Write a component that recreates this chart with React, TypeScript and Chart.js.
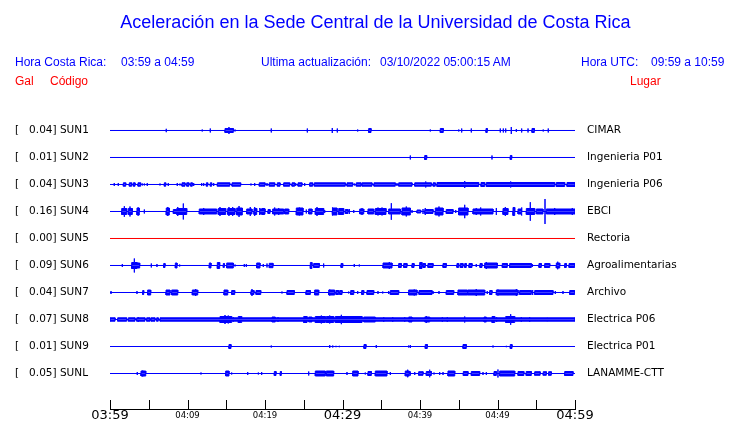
import React, { useEffect, useRef } from 'react';
import { Chart, registerables } from 'chart.js';

Chart.register(...registerables);

// ---------- data ----------
const STATION_CODES = ['SUN1', 'SUN2', 'SUN3', 'SUN4', 'SUN5', 'SUN6', 'SUN7', 'SUN8', 'SUN9', 'SUNL'];
const PEAK_GAL = ['0.04', '0.01', '0.04', '0.16', '0.00', '0.09', '0.04', '0.07', '0.01', '0.05'];
const PLACES = ['CIMAR', 'Ingenieria P01', 'Ingenieria P06', 'EBCI', 'Rectoria', 'Agroalimentarias', 'Archivo', 'Electrica P06', 'Electrica P01', 'LANAMME-CTT'];
const TIME_LABELS = ['03:59', '04:09', '04:19', '04:29', '04:39', '04:49', '04:59'];
const TRACE_COLORS = ['#0000ff', '#0000ff', '#0000ff', '#0000ff', '#ff0000', '#0000ff', '#0000ff', '#0000ff', '#0000ff', '#0000ff'];

// events per station: [start minute, end minute, half amplitude (1 trace spacing = 27)]
const SUN1 = [[7.26,7.26,1.7],[11.9,11.9,1],[12.94,12.94,2],[14.84,15.91,2],[15.35,15.35,3.5],[16.13,16.13,1],[20.81,20.81,2],[25.46,25.46,2],[28.68,28.68,2.5],[29.33,29.33,2],[31.96,31.96,1],[33.38,33.68,2],[41.33,41.33,1],[42.62,43.0,2],[45.0,45.0,1],[45.38,45.38,2],[46.62,46.62,2],[48.52,48.68,2],[50.36,50.36,2],[50.75,50.75,2],[51.06,51.06,2],[51.78,51.78,3.5],[52.43,52.43,1.5],[53.12,53.12,2],[53.94,53.94,2],[54.45,54.75,2],[55.9,55.9,1],[56.55,56.55,2]];
const SUN2 = [[38.75,38.75,2],[40.61,40.86,2],[49.29,49.29,2],[51.65,51.83,2]];
const SUN3 = [[0.55,0.55,1.5],[1.07,1.07,1.5],[1.72,2.03,1.7],[2.49,2.80,1.7],[3.01,3.23,1.7],[3.61,3.96,1.7],[4.17,4.17,1],[4.43,4.43,1],[4.81,4.81,1.5],[6.45,6.45,1],[7.01,7.19,1.7],[7.52,7.52,1.5],[8.68,8.68,1.5],[9.03,9.03,1],[9.29,9.68,1.7],[9.90,10.19,1.7],[10.41,10.62,1.7],[10.80,10.80,1.5],[11.83,11.83,1.5],[12.09,12.09,1.5],[12.43,12.61,1.7],[12.94,13.12,1.7],[13.38,13.38,1.5],[13.85,15.45,1.7],[15.74,16.86,1.7],[18.19,18.19,1],[18.67,18.67,1.5],[19.26,20.0,1.7],[20.26,20.26,1.5],[20.55,21.25,1.7],[21.59,21.94,1.7],[22.41,23.19,1.7],[23.48,23.83,1.7],[23.96,23.96,1.5],[24.26,24.77,1.7],[25.12,25.12,1.5],[25.77,26.15,1.7],[26.36,30.36,1.7],[30.58,31.32,1.7],[31.57,31.57,1],[31.78,32.39,1.7],[32.52,33.81,1.7],[34.06,36.81,1.7],[37.03,37.03,1.5],[37.25,38.97,1.7],[39.32,41.46,1.7],[40.74,40.74,3],[41.68,41.97,1.7],[42.19,47.57,2],[45.77,45.77,3.5],[47.87,48.35,2],[48.56,57.38,2],[49.42,49.42,2.5],[51.70,51.70,3],[57.59,58.67,2],[58.97,60,2]];
const SUN4 = [[1.51,2.15,3],[1.85,1.85,5.3],[2.36,2.88,3],[2.58,2.58,5],[3.48,3.78,3.5],[3.65,3.65,4],[4.43,4.43,2],[7.26,7.65,3.5],[7.45,7.45,4.5],[8.17,8.61,2],[8.61,9.90,3],[8.74,8.74,4.5],[9.46,9.46,8],[11.52,13.77,2.5],[12.09,12.09,3.5],[13.97,14.93,3],[14.19,14.19,4.5],[15.19,16.13,3],[15.35,15.35,4.5],[15.83,15.83,4.5],[16.35,17.07,3.5],[16.65,16.65,5.5],[17.64,18.32,2.5],[18.10,18.10,4.5],[18.58,18.93,3],[18.67,18.67,4.5],[19.26,20.0,2.5],[19.35,19.35,3.5],[19.61,19.96,3],[20.39,20.65,2],[20.99,22.41,2.5],[21.25,21.25,4],[21.77,21.77,3.5],[22.54,23.06,2.5],[24.04,24.90,3.5],[24.43,24.43,4],[25.33,25.33,2],[25.64,26.06,2.5],[26.49,27.57,3],[26.71,26.71,4.5],[27.70,27.70,1.5],[28.65,29.29,3.5],[28.74,28.74,4],[29.51,30.15,3],[30.36,30.71,2],[30.88,30.88,2.5],[31.45,31.45,1.5],[32.22,32.74,2.5],[32.52,32.52,3.5],[33.29,34.03,2.5],[34.23,35.61,3],[34.58,34.58,4],[35.10,35.10,4],[35.96,37.46,2.5],[36.30,36.30,8.3],[37.68,38.75,3.5],[38.23,38.23,5],[38.97,38.97,1.5],[39.61,40.09,1.5],[40.39,40.39,2.5],[40.61,41.68,2],[40.68,40.68,3.5],[41.25,41.25,2.5],[41.97,42.97,3.5],[42.45,42.45,5],[43.39,44.26,2],[44.61,44.61,1.5],[44.99,46.19,3.5],[45.77,45.77,6.7],[46.84,47.57,2.5],[47.26,47.26,3.5],[47.57,49.42,2.5],[47.83,47.83,4],[49.85,49.85,3.5],[50.71,51.35,3],[51.01,51.01,4.5],[52.0,52.22,4],[52.65,53.07,2.5],[53.16,53.16,4],[53.72,54.80,3],[54.23,54.23,9.3],[55.01,55.87,2.5],[56.13,56.13,12.5],[56.30,60,2.5],[57.38,57.38,3.5],[59.65,59.65,3.5]];
const SUN5 = [];
const SUN6 = [[1.59,1.59,1.5],[2.80,3.48,3],[3.14,3.14,7],[3.48,3.83,2.5],[5.33,5.33,2],[6.06,6.06,1.5],[6.93,7.10,2],[8.43,8.65,2.5],[8.99,8.99,1],[12.81,13.03,2.5],[13.85,14.15,3],[14.62,14.75,2],[15.06,15.91,2.5],[16.13,16.13,1],[17.33,17.33,1.5],[17.59,17.59,1.5],[18.93,19.35,2.5],[19.78,19.78,1.5],[20.26,20.26,2],[20.55,21.03,2.2],[25.85,26.06,3],[26.28,27.01,2],[27.57,27.57,2],[29.81,30.03,2],[31.52,31.52,1.5],[32.17,32.17,1],[35.23,36.39,2.5],[36.04,36.04,3.5],[37.25,37.59,2],[37.90,38.32,2],[38.97,39.23,2],[39.96,40.26,3],[40.39,40.68,2],[41.03,41.68,2],[42.97,43.39,2],[44.77,44.99,2],[45.20,45.55,2],[45.77,45.97,2],[46.32,46.71,2],[47.26,47.26,1.5],[47.74,48.0,2],[48.35,49.97,2.5],[48.56,48.56,3.5],[50.62,51.26,2],[51.57,54.36,2],[54.49,54.49,1.5],[55.35,55.65,2],[56.09,56.74,2],[57.59,58.03,2.5],[57.77,57.77,3.8],[58.67,58.88,2],[59.23,59.96,2]];
const SUN7 = [[0.13,0.13,1.5],[3.48,3.48,1.5],[4.22,4.35,2],[4.86,5.25,2.5],[7.23,7.74,2.5],[7.96,8.74,2.5],[10.62,11.32,2.5],[11.05,11.05,3.5],[14.71,15.19,2.5],[15.70,16.09,2],[18.19,18.58,2],[18.32,18.32,3.5],[18.84,19.45,2],[22.19,22.19,1],[22.84,23.78,2],[25.29,25.85,2],[26.41,26.93,2.5],[28.22,28.99,2.5],[28.35,28.35,3],[29.16,29.51,2],[29.64,29.94,2],[30.80,30.80,1],[31.06,31.45,2],[31.96,31.96,1.5],[32.48,32.74,2],[33.16,34.03,2],[34.58,34.58,1.5],[35.19,35.19,1],[35.96,35.96,1.5],[36.17,37.25,2],[38.54,39.61,2.5],[39.26,39.26,3],[39.87,41.55,2],[41.68,41.68,1.5],[42.45,42.45,1.5],[43.39,44.35,2],[44.90,46.10,2.5],[46.19,48.35,2.5],[47.26,47.26,3.5],[48.68,48.68,1.5],[48.99,49.29,2],[49.85,52.0,2.5],[50.06,50.06,3],[52.0,52.65,2.5],[52.43,52.43,3.5],[52.86,54.36,2],[54.54,54.54,2.5],[54.80,57.16,2],[57.46,57.46,1.5],[58.45,58.45,1.5],[59.32,59.96,2]];
const SUN8 = [[0,0.65,1.7],[0.99,2.15,1.7],[2.36,3.23,1.7],[3.44,4.52,1.7],[3.65,3.65,2.5],[4.73,5.16,1.7],[5.29,5.81,1.7],[6.02,6.23,1.7],[6.45,60,1.7],[14.19,15.70,3],[14.84,14.84,4.5],[15.26,15.26,4],[15.91,15.91,2.5],[16.55,16.99,3],[16.81,16.81,3.5],[20.90,21.33,2.5],[21.68,21.68,2.5],[24.99,25.42,3],[25.64,26.06,2.5],[26.49,27.78,3],[27.27,27.27,4],[27.91,28.86,3],[28.35,28.35,4],[29.07,32.52,3],[29.85,29.85,4.7],[32.74,34.23,2.5],[35.32,35.32,2.5],[36.48,36.48,2.5],[38.03,38.03,2.5],[38.54,38.97,2.5],[40.61,41.25,2.5],[40.81,40.81,3.5],[42.88,42.88,2.5],[43.52,43.52,2.5],[45.77,45.77,3],[48.26,48.56,2.5],[49.29,49.64,3],[49.89,49.89,2.5],[51.06,52.22,3],[51.70,51.70,5.3],[53.07,53.07,2.5],[54.15,54.15,2.5],[56.43,56.43,2]];
const SUN9 = [[15.35,15.61,2],[20.81,20.81,1],[28.35,28.35,1.5],[28.74,28.74,1],[29.16,29.16,0.7],[29.59,29.59,0.7],[32.77,33.03,2],[34.36,34.36,1.5],[38.54,38.54,1],[38.75,38.75,1.5],[40.68,40.94,2],[45.55,45.97,2],[49.42,49.42,1],[51.14,51.14,0.7],[51.65,51.87,2]];
const SUNL = [[3.52,3.52,1.5],[4.0,4.61,2.5],[4.22,4.22,3],[11.74,11.74,1],[14.93,15.35,2.5],[15.70,15.70,1],[17.77,17.77,1.5],[19.14,19.14,1],[19.57,19.57,1.5],[21.2,21.42,2],[21.97,22.10,2],[25.64,25.64,2],[26.49,27.78,2.5],[27.91,28.86,2.5],[30.58,30.58,1.5],[31.32,32.0,2.5],[32.94,32.94,1],[33.29,33.72,2],[34.23,35.74,2.5],[36.17,36.17,1.5],[38.10,38.62,2.5],[38.41,38.41,3.8],[38.75,38.75,2],[39.32,39.32,1.5],[39.83,40.39,1.8],[40.81,41.46,2],[41.25,41.25,3.8],[41.81,41.81,1],[42.54,42.54,1.5],[42.97,42.97,1.5],[43.61,44.48,2.5],[45.59,46.19,2],[46.62,47.70,2],[48.13,48.13,1.5],[48.56,48.56,1.5],[49.55,49.85,2],[50.06,50.06,4],[50.28,52.22,2.5],[52.65,53.4,2],[53.7,54.36,2],[54.80,55.5,1.8],[55.9,56.3,1.8],[56.6,56.94,1.8],[58.67,59.74,2]];

const TRACE_EVENTS = [SUN1, SUN2, SUN3, SUN4, SUN5, SUN6, SUN7, SUN8, SUN9, SUNL];

const AMP_PER_TRACE = 27;
const X_MIN = 0;
const X_MAX = 60;
const Y_MIN = -0.7222;
const Y_MAX = 10.3148;

function envelope(events: number[][], base: number, sign: number) {
  const set = new Set<number>([X_MIN, X_MAX]);
  events.forEach((e) => { set.add(e[0]); set.add(e[1]); });
  const times = Array.from(set).sort((a, b) => a - b);
  const pts: { x: number; y: number }[] = [];
  for (const t of times) {
    let L = 0, P = 0, R = 0;
    for (const [s, e, a] of events) {
      if (s < t && t <= e) L = Math.max(L, a);
      if (s <= t && t <= e) P = Math.max(P, a);
      if (s <= t && t < e) R = Math.max(R, a);
    }
    pts.push({ x: t, y: base + (sign * L) / AMP_PER_TRACE });
    pts.push({ x: t, y: base + (sign * P) / AMP_PER_TRACE });
    pts.push({ x: t, y: base + (sign * R) / AMP_PER_TRACE });
  }
  return pts;
}

const tickMarks = {
  id: 'tickMarks',
  afterDraw(chart: any) {
    const xs = chart.scales.x;
    const ctx = chart.ctx;
    const bottom = chart.chartArea.bottom;
    ctx.save();
    ctx.strokeStyle = '#000';
    ctx.lineWidth = 1;
    ctx.beginPath();
    xs.ticks.forEach((tk: any) => {
      const px = Math.round(xs.getPixelForValue(tk.value)) + 0.5;
      ctx.moveTo(px, bottom + 0.5);
      ctx.lineTo(px, bottom - 9);
    });
    ctx.stroke();
    ctx.restore();
  },
};

const HEAD: React.CSSProperties = {
  position: 'absolute',
  fontFamily: '"Liberation Sans", Arial, sans-serif',
  fontSize: 12,
  lineHeight: '14px',
  whiteSpace: 'pre',
  color: '#0000ff',
};

const noPad = (s: any) => {
  s.paddingTop = 0;
  s.paddingBottom = 0;
};

export default function App() {
  const ref = useRef<HTMLCanvasElement | null>(null);

  useEffect(() => {
    if (!ref.current) return;
    const datasets: any[] = [];
    TRACE_EVENTS.forEach((ev, i) => {
      [-1, 1].forEach((sign) => {
        datasets.push({
          data: envelope(ev as number[][], i, sign),
          borderColor: TRACE_COLORS[i],
          backgroundColor: TRACE_COLORS[i],
          borderWidth: 1,
          pointRadius: 0,
          tension: 0,
          fill: { value: i },
        });
      });
    });

    const leftLabels = STATION_CODES.map((c, i) => `[   ${PEAK_GAL[i]}] ${c}`);
    const setTicks = (s: any) => {
      s.ticks = PLACES.map((_, i) => ({ value: i }));
    };
    const labelFont = { family: '"DejaVu Sans", sans-serif', size: 10.5 };

    const chart = new Chart(ref.current, {
      type: 'line',
      data: { datasets },
      plugins: [tickMarks],
      options: {
        animation: false,
        responsive: false,
        events: [],
        layout: { padding: { left: 15, right: 0, top: 111, bottom: 0 } },
        plugins: { legend: { display: false }, tooltip: { enabled: false } },
        scales: {
          x: {
            type: 'linear',
            min: X_MIN,
            max: X_MAX,
            grid: { display: false, drawTicks: false },
            border: { display: true, color: '#000', width: 1 },
            afterFit: (s: any) => { s.height = 14; },
            ticks: {
              stepSize: 5,
              autoSkip: false,
              maxRotation: 0,
              padding: 0,
              color: '#000',
              callback: (v: any) => (Number(v) % 10 === 0 ? TIME_LABELS[Number(v) / 10] : ''),
              font: (ctx: any) => {
                const v = ctx.tick ? ctx.tick.value : 0;
                return v % 30 === 0
                  ? { family: '"DejaVu Sans", sans-serif', size: 13, lineHeight: '14px' }
                  : { family: '"DejaVu Sans", sans-serif', size: 8.5, lineHeight: '14px' };
              },
            },
          },
          y: {
            type: 'linear',
            position: 'left',
            reverse: true,
            bounds: 'data',
            min: Y_MIN,
            max: Y_MAX,
            grid: { display: false, drawTicks: false },
            border: { display: false },
            afterBuildTicks: setTicks,
            afterFit: (s: any) => { s.width = 95; noPad(s); },
            ticks: {
              autoSkip: false,
              padding: 0,
              crossAlign: 'far',
              color: '#000',
              font: labelFont,
              callback: (v: any) => leftLabels[Number(v)] ?? '',
            },
          },
          y2: {
            type: 'linear',
            position: 'right',
            reverse: true,
            bounds: 'data',
            min: Y_MIN,
            max: Y_MAX,
            grid: { display: false, drawTicks: false },
            border: { display: false },
            afterBuildTicks: setTicks,
            afterFit: (s: any) => { s.width = 165; noPad(s); },
            ticks: {
              autoSkip: false,
              padding: 12,
              crossAlign: 'near',
              color: '#000',
              font: labelFont,
              callback: (v: any) => PLACES[Number(v)] ?? '',
            },
          },
        },
      } as any,
    });
    return () => chart.destroy();
  }, []);

  return (
    <div style={{ position: 'absolute', left: 0, top: 0, width: 740, height: 423, background: '#fff' }}>
      <canvas ref={ref} width={740} height={423} style={{ position: 'absolute', left: 0, top: 0, width: 740, height: 423 }} />
      <div style={{ ...HEAD, left: 0, width: 751, top: 12, fontSize: 18, lineHeight: '20px', textAlign: 'center' }}>
        Aceleración en la Sede Central de la Universidad de Costa Rica
      </div>
      <div style={{ ...HEAD, left: 15, top: 54.5 }}>Hora Costa Rica:</div>
      <div style={{ ...HEAD, left: 121, top: 54.5 }}>03:59 a 04:59</div>
      <div style={{ ...HEAD, left: 261, top: 54.5 }}>Ultima actualización:</div>
      <div style={{ ...HEAD, left: 380, top: 54.5 }}>03/10/2022 05:00:15 AM</div>
      <div style={{ ...HEAD, left: 581, top: 54.5 }}>Hora UTC:</div>
      <div style={{ ...HEAD, left: 651, top: 54.5 }}>09:59 a 10:59</div>
      <div style={{ ...HEAD, left: 15, top: 74, color: '#ff0000' }}>Gal</div>
      <div style={{ ...HEAD, left: 50, top: 74, color: '#ff0000' }}>Código</div>
      <div style={{ ...HEAD, left: 630, top: 74, color: '#ff0000' }}>Lugar</div>
    </div>
  );
}
